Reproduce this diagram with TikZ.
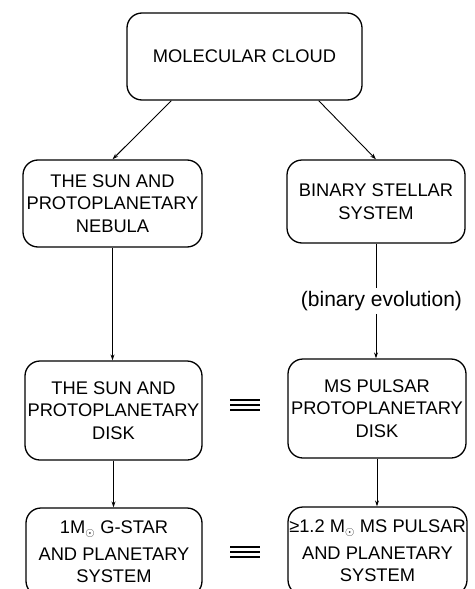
\documentclass[tikz,border=0pt]{standalone}
\usepackage{fontspec}
\setmainfont{Liberation Sans}
\usetikzlibrary{arrows.meta,calc}

\begin{document}
\begin{tikzpicture}[x=1pt,y=-1pt,
  stage/.style={draw, line width=1.3pt, rounded corners=15pt, align=center,
    inner sep=0pt, font=\fontsize{18.3}{22.5}\selectfont},
  flow/.style={line width=0.9pt, -{Stealth[length=6pt,width=4pt]}},
  link/.style={line width=0.9pt},
  same/.style={line width=1.5pt}]
\useasboundingbox (0,0) rectangle (474,589);
\clip (0,0) rectangle (474,589);

% stages of the two formation routes
\node[stage, minimum width=235pt, minimum height=87pt] (cloud) at (244.5,56.5) {MOLECULAR CLOUD};

\node[stage, minimum width=179pt, minimum height=87pt] (nebula) at (112.5,203.5)
  {THE SUN AND\\PROTOPLANETARY\\NEBULA};
\node[stage, minimum width=178pt, minimum height=83pt] (binary) at (376,201.5)
  {BINARY STELLAR\\SYSTEM};

\node[stage, minimum width=177pt, minimum height=99pt] (sundisk) at (113.5,410.5)
  {THE SUN AND\\PROTOPLANETARY\\DISK};
\node[stage, minimum width=178pt, minimum height=99pt] (psrdisk) at (377,408.5)
  {MS PULSAR\\PROTOPLANETARY\\DISK};

\node[stage, minimum width=176pt, minimum height=88pt] (gstar) at (114,552)
  {1M$_{\odot}$ G-STAR\\[4pt]AND PLANETARY\\SYSTEM};
\node[stage, minimum width=179pt, minimum height=88pt] (psrsys) at (377.5,551)
  {≥1.2 M$_{\odot}$ MS PULSAR\\[4pt]AND PLANETARY\\SYSTEM};

\node[font=\fontsize{21}{24}\selectfont, inner sep=3pt] (evol) at (381.5,301) {(binary evolution)};

% connectors
\draw[flow] ($(cloud.south west)+(45,0)$) -- (nebula.north);
\draw[flow] ($(cloud.south east)+(-44,0)$) -- (binary.north);
\draw[flow] (nebula.south) -- (nebula.south |- sundisk.north);
\draw[link] (binary.south) -- (binary.south |- evol.north);
\draw[flow] (binary.south |- evol.south) -- (binary.south |- psrdisk.north);
\draw[flow] (sundisk.south) -- (sundisk.south |- gstar.north);
\draw[flow] (psrdisk.south) -- (psrdisk.south |- psrsys.north);

% equivalence signs between the two routes
\foreach \y in {400,405,410} \draw[same] (230,\y) -- (260,\y);
\foreach \y in {547,552,557} \draw[same] (230,\y) -- (260,\y);
\end{tikzpicture}
\end{document}
